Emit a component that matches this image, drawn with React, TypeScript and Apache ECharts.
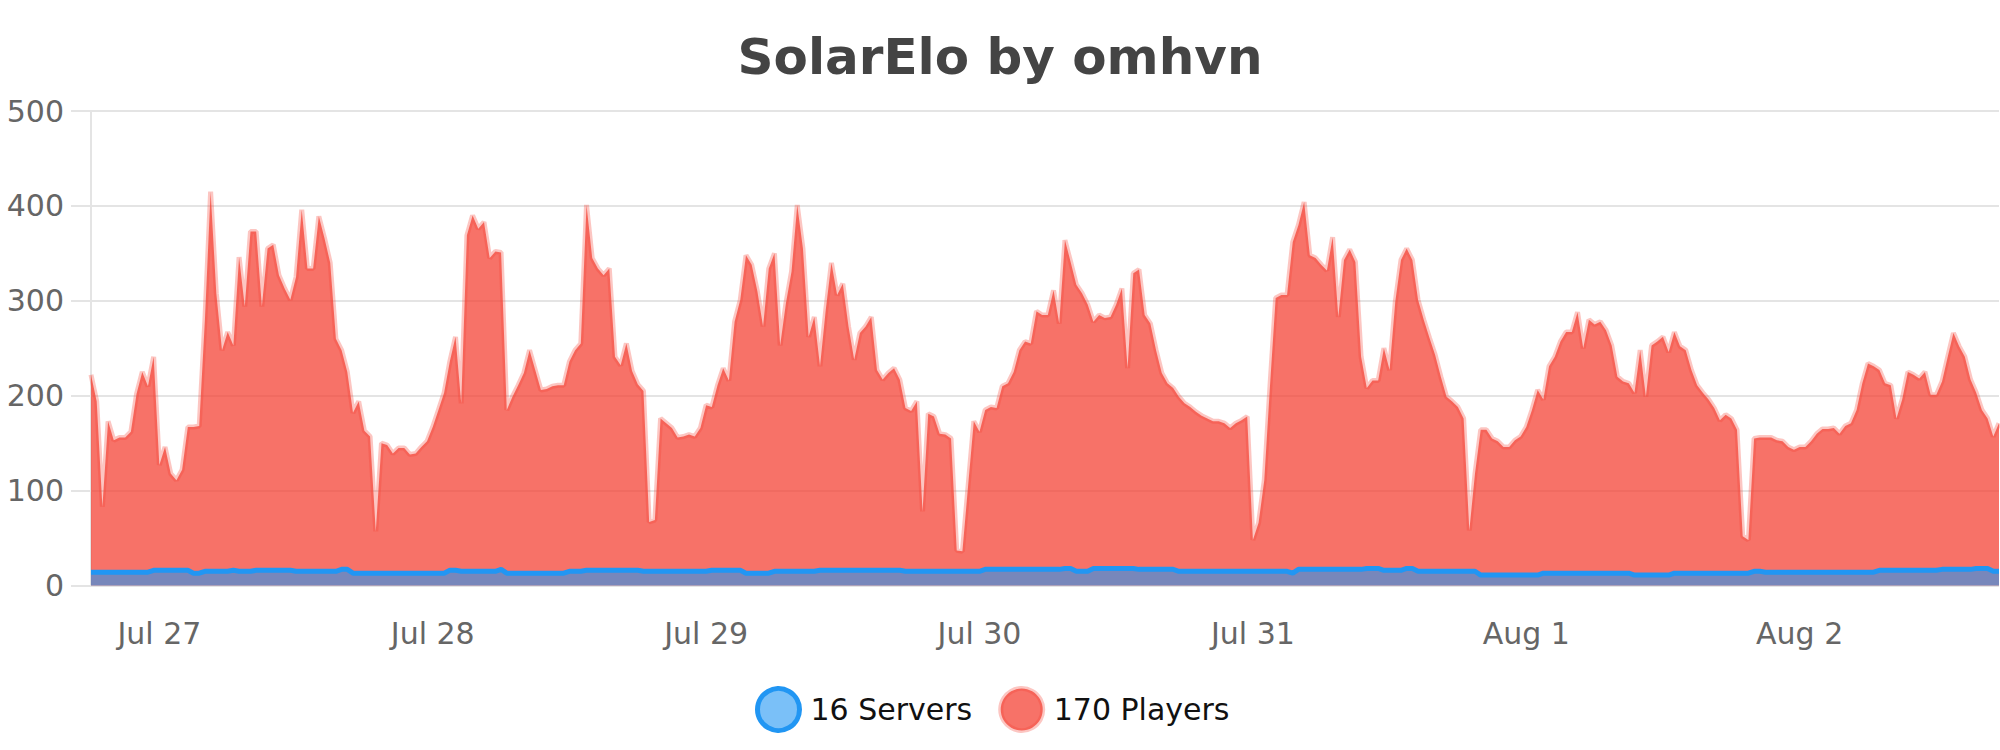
import { useEffect, useRef } from 'react'
import * as echarts from 'echarts'

// 30-minute samples, first one at Jul 26 18:00
const players = [
  222, 194, 83, 173, 153, 156, 156, 162, 202, 225, 210, 241,
  127, 146, 118, 111, 122, 167, 167, 168, 280, 415, 308, 248, 267, 253, 346, 294, 373, 373, 294, 355,
  359, 327, 313, 301, 325, 396, 334, 334, 389, 366, 340, 260, 248, 225, 182, 194, 163, 157, 57, 150,
  148, 139, 145, 145, 138, 139, 146, 152,
  167, 185, 203, 236, 262, 192, 369, 390, 376, 383, 345, 352, 351, 185, 199, 211, 224, 248, 227, 206,
  207, 210, 211, 211, 236, 248, 255, 401, 345, 334, 327, 334, 241, 232, 255, 226, 212, 205, 67, 69,
  176, 171, 166, 156, 157, 159, 157, 166,
  190, 188, 211, 229, 216, 278, 301, 348, 338, 310, 273, 334, 350, 253, 297, 331, 401, 355, 262, 283,
  231, 290, 340, 306, 318, 273, 238, 266, 273, 283, 227, 217, 224, 229, 217, 187, 184, 194, 78, 181,
  178, 160, 159, 155, 37, 36, 105, 173,
  162, 185, 188, 187, 210, 213, 225, 248, 257, 255, 289, 285, 285, 311, 276, 364, 341, 317, 308, 296,
  278, 285, 282, 283, 296, 313, 229, 329, 333, 285, 276, 248, 224, 213, 208, 199, 192, 188, 183, 179,
  176, 173, 173, 171, 166, 171, 174, 178,
  48, 66, 111, 210, 303, 306, 306, 362, 380, 404, 348, 345, 338, 332, 367, 283, 343, 354, 341, 241,
  208, 216, 216, 250, 227, 299, 343, 355, 343, 301, 280, 261, 243, 220, 199, 194, 188, 176, 58, 118,
  164, 164, 155, 152, 146, 146, 153, 157,
  167, 185, 206, 196, 231, 241, 257, 267, 267, 288, 250, 280, 275, 278, 269, 253, 220, 215, 213, 203,
  248, 199, 253, 257, 262, 246, 267, 252, 248, 227, 211, 203, 196, 187, 174, 180, 176, 164, 52, 48,
  155, 156, 156, 156, 153, 152, 146, 143,
  146, 146, 152, 160, 165, 165, 166, 160, 168, 171, 185, 213, 234, 231, 227, 213, 211, 176, 196, 225,
  222, 218, 225, 201, 201, 215, 241, 266, 252, 241, 217, 203, 185, 176, 157, 171
]

const servers = [
  14, 14, 14, 14, 14, 14, 14, 14, 14, 14, 14, 16,
  16, 16, 16, 16, 16, 16, 13, 13, 15, 15, 15, 15, 15, 16, 15, 15, 15, 16, 16, 16,
  16, 16, 16, 16, 15, 15, 15, 15, 15, 15, 15, 15, 17, 17, 13, 13, 13, 13, 13, 13,
  13, 13, 13, 13, 13, 13, 13, 13,
  13, 13, 13, 16, 16, 15, 15, 15, 15, 15, 15, 15, 17, 13, 13, 13, 13, 13, 13, 13,
  13, 13, 13, 13, 15, 15, 15, 16, 16, 16, 16, 16, 16, 16, 16, 16, 16, 15, 15, 15,
  15, 15, 15, 15, 15, 15, 15, 15,
  15, 16, 16, 16, 16, 16, 16, 13, 13, 13, 13, 13, 15, 15, 15, 15, 15, 15, 15, 15,
  16, 16, 16, 16, 16, 16, 16, 16, 16, 16, 16, 16, 16, 16, 16, 15, 15, 15, 15, 15,
  15, 15, 15, 15, 15, 15, 15, 15,
  15, 17, 17, 17, 17, 17, 17, 17, 17, 17, 17, 17, 17, 17, 17, 18, 18, 15, 15, 15,
  18, 18, 18, 18, 18, 18, 18, 18, 17, 17, 17, 17, 17, 17, 17, 15, 15, 15, 15, 15,
  15, 15, 15, 15, 15, 15, 15, 15,
  15, 15, 15, 15, 15, 15, 15, 13, 17, 17, 17, 17, 17, 17, 17, 17, 17, 17, 17, 17,
  18, 18, 18, 16, 16, 16, 16, 18, 18, 15, 15, 15, 15, 15, 15, 15, 15, 15, 15, 15,
  11, 11, 11, 11, 11, 11, 11, 11,
  11, 11, 11, 13, 13, 13, 13, 13, 13, 13, 13, 13, 13, 13, 13, 13, 13, 13, 13, 11,
  11, 11, 11, 11, 11, 11, 13, 13, 13, 13, 13, 13, 13, 13, 13, 13, 13, 13, 13, 13,
  15, 15, 14, 14, 14, 14, 14, 14,
  14, 14, 14, 14, 14, 14, 14, 14, 14, 14, 14, 14, 14, 14, 16, 16, 16, 16, 16, 16,
  16, 16, 16, 16, 16, 17, 17, 17, 17, 17, 17, 18, 18, 18, 15, 15
]

const dayLabels = ['Jul 27', 'Jul 28', 'Jul 29', 'Jul 30', 'Jul 31', 'Aug 1', 'Aug 2']
const SLOTS_PER_DAY = 48
const FIRST_MIDNIGHT = 12 // slot index of Jul 27 00:00

const FONT = 'DejaVu Sans'

export default function App() {
  const chartRef = useRef<HTMLDivElement>(null)

  useEffect(() => {
    if (!chartRef.current) return
    const chart = echarts.init(chartRef.current, undefined, { renderer: 'svg' })

    const categories = players.map((_, i) => String(i))
    const isMidnight = (index: number) =>
      index >= FIRST_MIDNIGHT && (index - FIRST_MIDNIGHT) % SLOTS_PER_DAY === 0

    chart.setOption({
      animation: false,
      backgroundColor: '#fff',
      textStyle: { fontFamily: FONT },
      title: {
        text: 'SolarElo by omhvn',
        left: 'center',
        top: 27,
        textStyle: { fontFamily: FONT, fontSize: 50, fontWeight: 'bold', color: '#444' }
      },
      legend: {
        bottom: 17,
        left: 755,
        padding: 0,
        itemWidth: 42,
        itemHeight: 42,
        itemGap: 26,
        icon: 'circle',
        textStyle: { fontFamily: FONT, fontSize: 30, color: '#111', padding: [0, 0, 0, 6] },
        data: [
          {
            name: '16 Servers',
            itemStyle: { color: 'rgba(33,150,243,0.6)', borderColor: '#2196F3', borderWidth: 5 }
          },
          {
            name: '170 Players',
            itemStyle: { color: 'rgba(244,67,54,0.75)', borderColor: 'rgba(244,67,54,0.3)', borderWidth: 5 }
          }
        ]
      },
      grid: { left: 91, right: 1, top: 111, bottom: 164.5, containLabel: false },
      xAxis: {
        type: 'category',
        boundaryGap: false,
        data: categories,
        axisLine: { show: false },
        axisTick: { show: false },
        splitLine: { show: false },
        axisLabel: {
          interval: (index: number) => isMidnight(index),
          formatter: (_: string, index: number) =>
            dayLabels[(index - FIRST_MIDNIGHT) / SLOTS_PER_DAY] ?? '',
          margin: 33,
          fontFamily: FONT,
          fontSize: 30,
          color: '#666'
        }
      },
      yAxis: {
        type: 'value',
        min: 0,
        max: 500,
        interval: 100,
        axisLine: { show: true, lineStyle: { color: '#e4e4e4', width: 2 } },
        axisTick: { show: true, length: 20, lineStyle: { color: '#e4e4e4', width: 2 } },
        splitLine: { lineStyle: { color: '#e4e4e4', width: 2 } },
        axisLabel: { margin: 27, fontFamily: FONT, fontSize: 30, color: '#666' }
      },
      series: [
        {
          name: '170 Players',
          type: 'line',
          data: players,
          symbol: 'none',
          lineStyle: { color: 'rgba(244,67,54,0.3)', width: 5 },
          itemStyle: { color: 'rgba(244,67,54,0.75)' },
          areaStyle: { color: 'rgba(244,67,54,0.75)', opacity: 1 },
          z: 2
        },
        {
          name: '16 Servers',
          type: 'line',
          data: servers,
          symbol: 'none',
          lineStyle: { color: '#2196F3', width: 5 },
          itemStyle: { color: '#2196F3' },
          areaStyle: { color: 'rgba(33,150,243,0.6)', opacity: 1 },
          z: 3
        }
      ]
    })

    return () => {
      chart.dispose()
    }
  }, [])

  return (
    <div
      ref={chartRef}
      style={{ position: 'fixed', left: 0, top: 0, width: '2000px', height: '750px' }}
    />
  )
}
